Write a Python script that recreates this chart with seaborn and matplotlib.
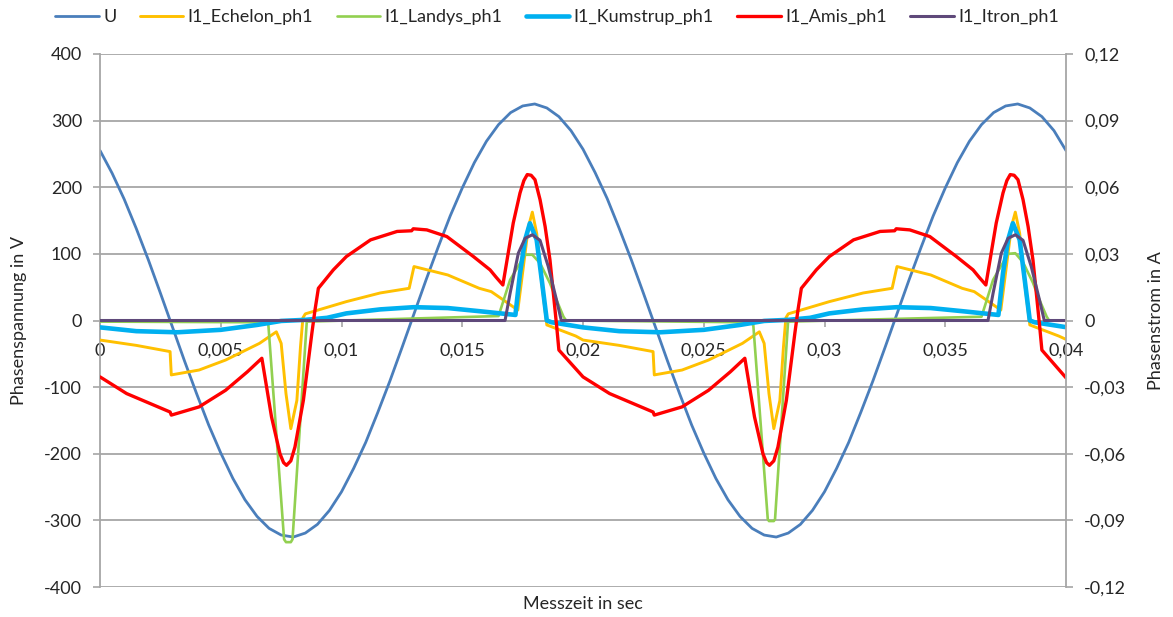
import matplotlib
matplotlib.use("Agg")
import matplotlib.pyplot as plt
import seaborn as sns
import numpy as np
from matplotlib.ticker import FuncFormatter

# --- data ---
# voltage U (V), sampled every 0.5 ms
t_u = np.linspace(0, 0.04, 81)
u_volt = [255, 221, 182, 138, 91, 41, -10, -61, -110, -157, -199, -237, -269, -294, -312, -322,
          -325, -319, -306, -285, -257, -222, -183, -138, -91, -41, 10, 61, 110, 157, 199, 237,
          269, 294, 312, 322, 325, 319, 306, 285, 257, 222, 183, 138, 91, 41, -10, -61, -110,
          -157, -199, -237, -269, -294, -312, -322, -325, -319, -306, -285, -257, -222, -183,
          -138, -91, -41, 10, 61, 110, 157, 199, 237, 269, 294, 312, 322, 325, 319, 306, 285, 255]

# currents (A)
t_echelon = [0, 0.0015, 0.0029, 0.00295, 0.0041, 0.0052, 0.0066, 0.0073, 0.0075, 0.0077, 0.0079,
             0.00815, 0.0083, 0.0084, 0.0085, 0.0102, 0.0116, 0.0128, 0.0130, 0.0144, 0.0157,
             0.0162, 0.0166, 0.0173, 0.01753, 0.01774, 0.0179, 0.01808, 0.01829, 0.0185, 0.0197,
             0.0200, 0.0215, 0.0229, 0.02295, 0.0241, 0.0252, 0.0266, 0.0273, 0.0275, 0.0277,
             0.0279, 0.02815, 0.0283, 0.0284, 0.0285, 0.0302, 0.0316, 0.0328, 0.0330, 0.0344,
             0.0357, 0.0362, 0.0366, 0.0373, 0.03753, 0.03774, 0.0379, 0.03808, 0.03829, 0.0385,
             0.0397, 0.0400]
i_echelon = [-0.0088, -0.0112, -0.0140, -0.0245, -0.0223, -0.0178, -0.0103, -0.0051, -0.0103,
             -0.0330, -0.0487, -0.0360, -0.0118, 0.0012, 0.0030, 0.0085, 0.0124, 0.0145, 0.0243,
             0.0205, 0.0145, 0.0130, 0.0100, 0.0047, 0.0243, 0.0423, 0.0488, 0.0393, 0.0168,
             -0.0020, -0.0070,
             -0.0088, -0.0112, -0.0140, -0.0245, -0.0223, -0.0178, -0.0103, -0.0051, -0.0103,
             -0.0330, -0.0487, -0.0360, -0.0118, 0.0012, 0.0030, 0.0085, 0.0124, 0.0145, 0.0243,
             0.0205, 0.0145, 0.0130, 0.0100, 0.0047, 0.0243, 0.0423, 0.0488, 0.0393, 0.0168,
             -0.0020, -0.0070, -0.0085]

t_landys = [0, 0.0069, 0.00697, 0.00762, 0.0077, 0.0079, 0.00797, 0.00856, 0.0165, 0.01698,
            0.0176, 0.0179, 0.01822, 0.01863, 0.0189, 0.01919, 0.0193, 0.0269, 0.02705, 0.02765,
            0.0277, 0.0279, 0.02795, 0.02849, 0.0365, 0.03698, 0.0376, 0.0379, 0.03822, 0.03863,
            0.0389, 0.0392, 0.0393, 0.0400]
i_landys = [-0.0005, -0.0008, -0.0020, -0.0985, -0.0998, -0.0998, -0.0985, -0.0005, 0.0020, 0.0183,
            0.0296, 0.0296, 0.0258, 0.0168, 0.0093, 0.0017, 0.0, -0.0008, -0.0020, -0.0895,
            -0.0903, -0.0903, -0.0895, -0.0005, 0.0017, 0.0183, 0.0300, 0.0303, 0.0262, 0.0170,
            0.0093, 0.0017, 0.0, 0.0]

t_kumstrup = [0, 0.0015, 0.0032, 0.0050, 0.0065, 0.0075, 0.0085, 0.0094, 0.0102, 0.0116, 0.0130,
              0.0144, 0.0157, 0.0172, 0.01739, 0.0176, 0.0178, 0.01808, 0.01829, 0.0185, 0.0187,
              0.0200, 0.0215, 0.0232, 0.0250, 0.0265, 0.0275, 0.0285, 0.0294, 0.0302, 0.0316,
              0.0330, 0.0344, 0.0357, 0.0372, 0.03739, 0.0376, 0.0378, 0.03808, 0.03829, 0.0385,
              0.0387, 0.0400]
i_kumstrup = [-0.0031, -0.0048, -0.0053, -0.0042, -0.0020, -0.0002, 0.0003, 0.0012, 0.0032, 0.0050,
              0.0060, 0.0056, 0.0042, 0.0025, 0.0213, 0.0363, 0.0438, 0.0363, 0.0183, 0.0, -0.0008,
              -0.0031, -0.0048, -0.0053, -0.0042, -0.0020, -0.0002, 0.0003, 0.0012, 0.0032, 0.0050,
              0.0060, 0.0056, 0.0042, 0.0025, 0.0213, 0.0363, 0.0438, 0.0363, 0.0183, 0.0, -0.0008,
              -0.0030]

t_amis = [0, 0.0011, 0.0029, 0.00295, 0.0041, 0.0052, 0.0061, 0.0067, 0.0071, 0.00745, 0.0076,
          0.00772, 0.0079, 0.00807, 0.00842, 0.00877, 0.0089, 0.00904, 0.00966, 0.0102, 0.0112,
          0.0123, 0.0129, 0.01297, 0.01353, 0.01436, 0.01546, 0.01615, 0.0164, 0.01668, 0.01711,
          0.01739, 0.01755, 0.01769, 0.01785, 0.01801, 0.01822, 0.01843, 0.01863, 0.01877,
          0.01891, 0.0190,
          0.0200, 0.0211, 0.0229, 0.02295, 0.0241, 0.0252, 0.0261, 0.0267, 0.0271, 0.02745, 0.0276,
          0.02772, 0.0279, 0.02807, 0.02842, 0.02877, 0.0289, 0.02904, 0.02966, 0.0302, 0.0312,
          0.0323, 0.0329, 0.03297, 0.03353, 0.03436, 0.03546, 0.03615, 0.0364, 0.03668, 0.03711,
          0.03739, 0.03755, 0.03769, 0.03785, 0.03801, 0.03822, 0.03843, 0.03863, 0.03877,
          0.03891, 0.0390, 0.0400]
i_amis = [-0.0254, -0.0329, -0.0412, -0.0426, -0.0389, -0.0314, -0.0231, -0.0170, -0.0434, -0.0600,
          -0.0640, -0.0652, -0.0632, -0.0570, -0.0359, -0.0058, 0.0047, 0.0145, 0.0228, 0.0288,
          0.0363, 0.0401, 0.0404, 0.0413, 0.0408, 0.0378, 0.0288, 0.0228, 0.0195, 0.0160, 0.0439,
          0.0574, 0.0630, 0.0657, 0.0654, 0.0634, 0.0544, 0.0423, 0.0273, 0.0123, -0.0028, -0.0133,
          -0.0254, -0.0329, -0.0412, -0.0426, -0.0389, -0.0314, -0.0231, -0.0170, -0.0434, -0.0600,
          -0.0640, -0.0652, -0.0632, -0.0570, -0.0359, -0.0058, 0.0047, 0.0145, 0.0228, 0.0288,
          0.0363, 0.0401, 0.0404, 0.0413, 0.0408, 0.0378, 0.0288, 0.0228, 0.0195, 0.0160, 0.0439,
          0.0574, 0.0630, 0.0657, 0.0654, 0.0634, 0.0544, 0.0423, 0.0273, 0.0123, -0.0028, -0.0133,
          -0.0258]

t_itron = [0, 0.01677, 0.01698, 0.01732, 0.0176, 0.0179, 0.01822, 0.01856, 0.0189, 0.0191,
           0.03677, 0.03698, 0.03732, 0.0376, 0.0379, 0.03822, 0.03856, 0.0389, 0.0391, 0.0400]
i_itron = [0.0, 0.0, 0.0123, 0.0303, 0.0370, 0.0386, 0.0361, 0.0243, 0.0093, 0.0,
           0.0, 0.0123, 0.0303, 0.0370, 0.0386, 0.0361, 0.0243, 0.0093, 0.0, 0.0]

volt_ticks = [-400, -300, -200, -100, 0, 100, 200, 300, 400]
amp_ticks = [-0.12, -0.09, -0.06, -0.03, 0, 0.03, 0.06, 0.09, 0.12]
time_ticks = [0, 0.005, 0.01, 0.015, 0.02, 0.025, 0.03, 0.035, 0.04]

# --- style ---
sns.set_theme(style="white")
plt.rcParams['font.family'] = ['Lato', 'DejaVu Sans']
plt.rcParams['lines.solid_joinstyle'] = 'round'
plt.rcParams['lines.solid_capstyle'] = 'round'
GRID = '#A6A6A6'
TXT = '#262626'
FS = 13


def comma_fmt(v, pos=None):
    if abs(v) < 1e-12:
        return '0'
    return f"{v:g}".replace('.', ',')


fig = plt.figure(figsize=(11.73, 6.17), dpi=100)
ax = fig.add_axes([0.0853, 0.0486, 0.8235, 0.8639])
ax2 = ax.twinx()

sns.lineplot(x=t_u, y=u_volt, ax=ax, color='#4A7EBB', lw=2.0, label='U',
             sort=False, estimator=None, legend=False)

series = [
    (t_echelon, i_echelon, 'I1_Echelon_ph1', '#FFC000', 2.1),
    (t_landys, i_landys, 'I1_Landys_ph1', '#92D050', 1.9),
    (t_kumstrup, i_kumstrup, 'I1_Kumstrup_ph1', '#00B0F0', 3.3),
    (t_amis, i_amis, 'I1_Amis_ph1', '#FF0000', 2.4),
    (t_itron, i_itron, 'I1_Itron_ph1', '#5F497A', 2.2),
]
for tx, iy, name, col, lw in series:
    sns.lineplot(x=tx, y=iy, ax=ax2, color=col, lw=lw, label=name,
                 sort=False, estimator=None, legend=False)

# primary axis
ax.set_xlim(0, 0.04)
ax.set_ylim(-400, 400)
ax.set_yticks(volt_ticks)
ax.set_xticks(time_ticks)
ax.xaxis.set_major_formatter(FuncFormatter(comma_fmt))
ax.yaxis.set_major_formatter(FuncFormatter(comma_fmt))
ax.yaxis.grid(True, color=GRID, lw=1.3)
ax.xaxis.grid(False)
ax.spines['bottom'].set_position(('data', 0))
for side in ['top', 'right']:
    ax.spines[side].set_visible(False)
for side in ['left', 'bottom']:
    ax.spines[side].set_color(GRID)
    ax.spines[side].set_linewidth(1.3)
ax.tick_params(axis='y', direction='out', length=5, width=1.2, color=GRID,
               labelsize=FS, labelcolor=TXT, pad=8, left=True)
ax.tick_params(axis='x', direction='out', length=4, width=1.2, color=GRID,
               labelsize=FS, labelcolor=TXT, pad=12, bottom=True)
ax.set_ylabel('Phasenspannung in V', fontsize=FS, color=TXT, labelpad=12)
ax.set_xlabel('')
fig.text(0.497, 0.021, 'Messzeit in sec', ha='center', va='center', fontsize=FS, color=TXT)

# secondary axis
ax2.set_ylim(-0.12, 0.12)
ax2.set_yticks(amp_ticks)
ax2.yaxis.set_major_formatter(FuncFormatter(comma_fmt))
ax2.grid(False)
for side in ['top', 'left', 'bottom']:
    ax2.spines[side].set_visible(False)
ax2.spines['right'].set_color(GRID)
ax2.spines['right'].set_linewidth(1.3)
ax2.tick_params(axis='y', direction='out', length=5, width=1.2, color=GRID,
                labelsize=FS, labelcolor=TXT, pad=8, right=True)
ax2.set_ylabel('Phasenstrom in A', fontsize=FS, color=TXT, labelpad=16)

handles = ax.get_lines() + ax2.get_lines()
labels = [h.get_label() for h in handles]
fig.legend(handles, labels, loc='center', bbox_to_anchor=(0.475, 0.972), ncol=6,
           frameon=False, fontsize=FS, handlelength=2.4, handletextpad=0.25,
           columnspacing=1.3)

fig.savefig('out.png', dpi=100)
plt.close(fig)
